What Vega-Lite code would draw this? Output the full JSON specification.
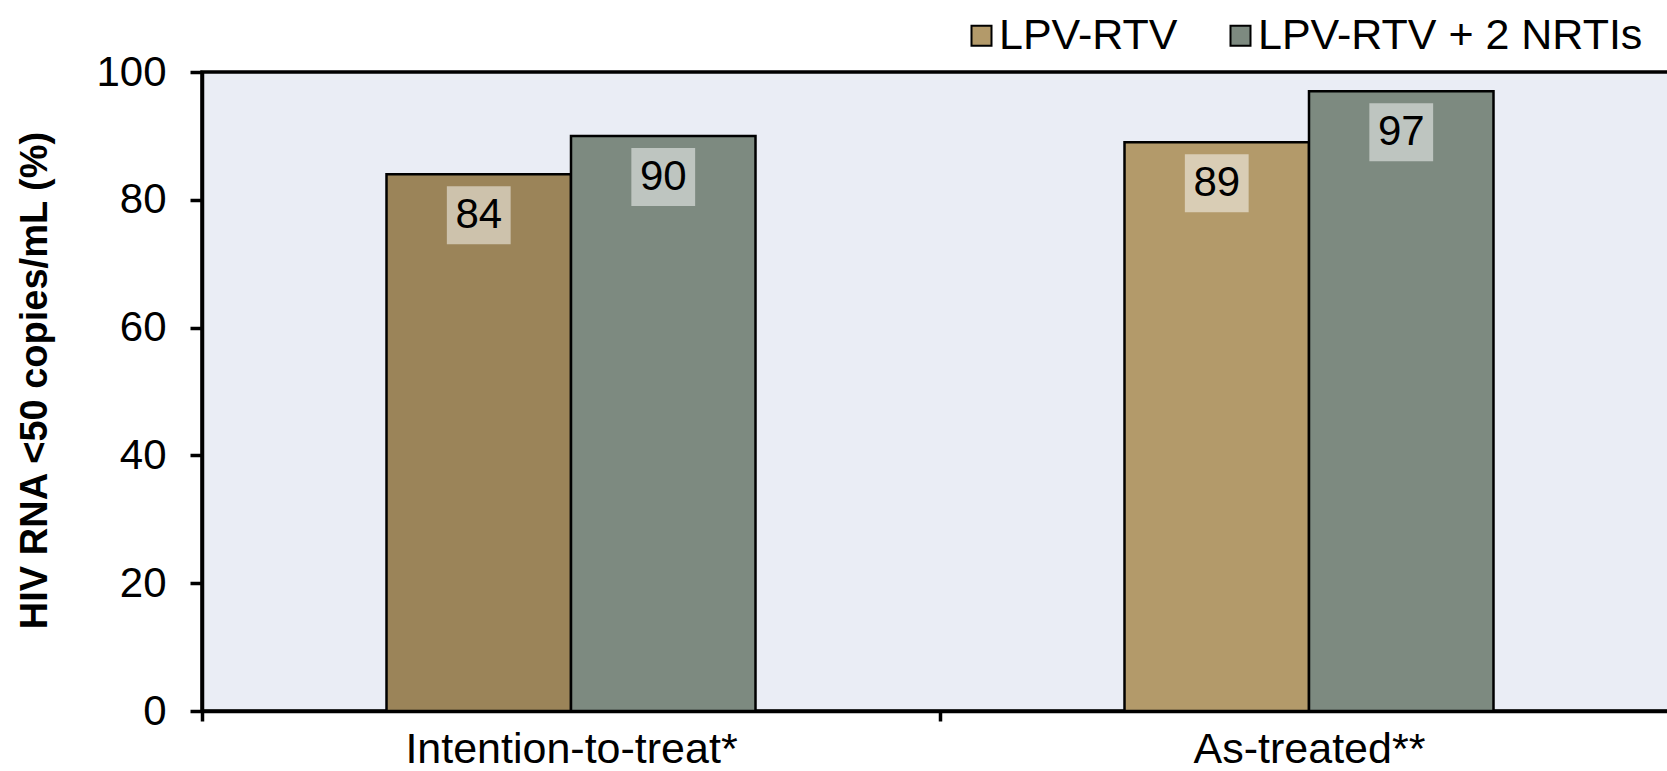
{
  "$schema": "https://vega.github.io/schema/vega-lite/v6.json",
  "autosize": "none",
  "padding": {"left": 202, "top": 72, "right": 0, "bottom": 60},
  "width": 1467,
  "height": 639,
  "background": "white",
  "config": {
    "font": "Liberation Sans",
    "view": {"fill": "#EAEDF5", "stroke": "black", "strokeWidth": 3.5}
  },
  "data": {
    "values": [
      {"group": "Intention-to-treat*", "arm": "LPV-RTV", "value": 84},
      {"group": "Intention-to-treat*", "arm": "LPV-RTV + 2 NRTIs", "value": 90},
      {"group": "As-treated**", "arm": "LPV-RTV", "value": 89},
      {"group": "As-treated**", "arm": "LPV-RTV + 2 NRTIs", "value": 97}
    ]
  },
  "encoding": {
    "x": {
      "field": "group",
      "type": "nominal",
      "sort": null,
      "title": null,
      "scale": {"paddingInner": 0, "paddingOuter": 0, "range": [0, 1476]},
      "axis": {
        "orient": "bottom",
        "labelAngle": 0,
        "labelFontSize": 43,
        "labelColor": "black",
        "labelPadding": 7,
        "labelLimit": 0,
        "domainColor": "black",
        "domainWidth": 3.5,
        "tickColor": "black",
        "tickWidth": 3.5,
        "tickSize": 10,
        "tickBand": "extent"
      }
    },
    "xOffset": {
      "field": "arm",
      "type": "nominal",
      "sort": ["LPV-RTV", "LPV-RTV + 2 NRTIs"],
      "scale": {"paddingInner": 0, "paddingOuter": 1}
    },
    "y": {
      "field": "value",
      "type": "quantitative",
      "title": "HIV RNA <50 copies/mL (%)",
      "scale": {"domain": [0, 100], "nice": false},
      "axis": {
        "values": [0, 20, 40, 60, 80, 100],
        "grid": false,
        "domainColor": "black",
        "domainWidth": 3.5,
        "tickColor": "black",
        "tickWidth": 3.5,
        "tickSize": 12,
        "labelFontSize": 42,
        "labelColor": "black",
        "labelPadding": 24,
        "titleFontSize": 38,
        "titleFontWeight": "bold",
        "titleColor": "black",
        "titleX": -167,
        "titleY": 308,
        "titleBaseline": "middle",
        "titleAngle": 270
      }
    }
  },
  "layer": [
    {
      "mark": {"type": "bar", "stroke": "black", "strokeWidth": 2.5},
      "encoding": {
        "color": {
          "field": "arm",
          "type": "nominal",
          "scale": {"domain": ["LPV-RTV", "LPV-RTV + 2 NRTIs"], "range": ["#B39A6A", "#7D8A80"]},
          "condition": {"test": "datum.group === 'Intention-to-treat*' && datum.arm === 'LPV-RTV'", "value": "#9B8459"},
          "legend": {
            "orient": "none",
            "legendX": 758,
            "legendY": -58,
            "direction": "horizontal",
            "title": null,
            "labelFontSize": 43,
            "labelColor": "black",
            "labelLimit": 0,
            "labelOffset": -4,
            "columnPadding": 41,
            "symbolType": "square",
            "symbolSize": 400,
            "symbolStrokeColor": "black",
            "symbolStrokeWidth": 2,
            "symbolOpacity": 1
          }
        }
      }
    },
    {
      "mark": {
        "type": "point",
        "shape": "M-1.1,-1H1.1V1H-1.1Z",
        "size": 3364,
        "filled": true,
        "color": "white",
        "opacity": 0.5,
        "strokeWidth": 0,
        "yOffset": 41
      }
    },
    {
      "mark": {"type": "text", "dy": 41, "fontSize": 42, "baseline": "middle", "color": "black"},
      "encoding": {"text": {"field": "value", "type": "quantitative"}}
    }
  ]
}
